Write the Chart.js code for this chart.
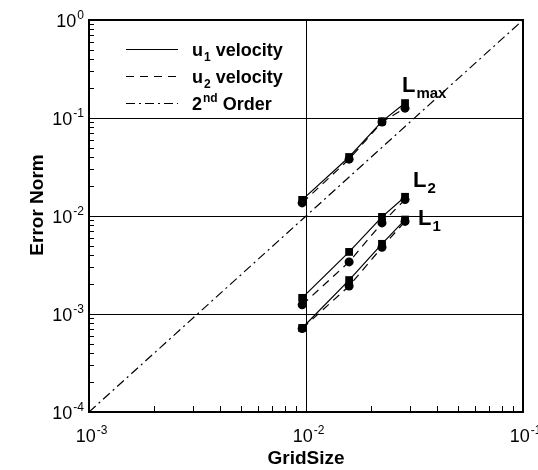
<!DOCTYPE html>
<html>
<head>
<meta charset="utf-8">
<script src="https://cdn.jsdelivr.net/npm/chart.js@4"></script>
<style>
  body { margin: 0; background: #fff; }
  #wrap { width: 538px; height: 470px; }
</style>
</head>
<body>
<div id="wrap"><canvas id="chart" width="538" height="470"></canvas></div>
<script>
// grid sizes (x) and error norms (y)
const gridSize = [0.0096, 0.0158, 0.0224, 0.0286];

const lmaxU1 = [0.0146, 0.0400, 0.0925, 0.142];
const lmaxU2 = [0.0136, 0.0380, 0.0910, 0.126];
const l2U1 = [0.00146, 0.0043, 0.0098, 0.0157];
const l2U2 = [0.00124, 0.0034, 0.0085, 0.0147];
const l1U1 = [0.00072, 0.00222, 0.0052, 0.0092];
const l1U2 = [0.00071, 0.00193, 0.0048, 0.0088];

// reference 2nd order slope
const orderX = [0.001, 0.1];
const orderY = [0.0001, 1];

const xTicks = [0.001, 0.01, 0.1];
const yTicks = [0.0001, 0.001, 0.01, 0.1, 1];

const FONT = "'Liberation Sans', Arial, sans-serif";

const pts = (xs, ys) => xs.map((x, i) => ({ x: x, y: ys[i] }));

function series(ys, dashed, style) {
  return {
    data: pts(gridSize, ys),
    showLine: true,
    borderColor: "#000",
    backgroundColor: "#000",
    borderWidth: 1.2,
    borderDash: dashed ? [8, 6] : [],
    pointStyle: style,
    pointRadius: style === "rect" ? 5.5 : 4.5,
    pointBorderWidth: 0
  };
}

// text with super/subscript part
function drawScript(ctx, x, y, base, extra, size, bold, sup, align) {
  const w = bold ? "bold " : "";
  ctx.font = w + size + "px " + FONT;
  const bw = ctx.measureText(base).width;
  const small = Math.round(size * 0.68);
  ctx.font = w + small + "px " + FONT;
  const ew = ctx.measureText(extra).width;
  let left = x;
  if (align === "right") left = x - bw - ew;
  if (align === "center") left = x - (bw + ew) / 2;
  ctx.textAlign = "left";
  ctx.textBaseline = "alphabetic";
  ctx.font = w + size + "px " + FONT;
  ctx.fillText(base, left, y);
  ctx.font = w + small + "px " + FONT;
  ctx.fillText(extra, left + bw + 1, sup ? y - size * 0.45 : y + size * 0.28);
}

const decor = {
  id: "decor",
  afterDraw(chart) {
    const ctx = chart.ctx;
    const a = chart.chartArea;
    const xs = chart.scales.x, ys = chart.scales.y;
    ctx.save();
    ctx.fillStyle = "#000";
    ctx.strokeStyle = "#000";

    // minor ticks
    ctx.lineWidth = 1;
    ctx.beginPath();
    for (let d = -4; d < 0; d++) {
      for (let k = 2; k < 10; k++) {
        const py = Math.round(ys.getPixelForValue(k * Math.pow(10, d))) + 0.5;
        ctx.moveTo(a.left, py);
        ctx.lineTo(a.left + 5, py);
      }
    }
    for (let d = -3; d < -1; d++) {
      for (let k = 2; k < 10; k++) {
        const px = Math.round(xs.getPixelForValue(k * Math.pow(10, d))) + 0.5;
        ctx.moveTo(px, a.bottom);
        ctx.lineTo(px, a.bottom - 6);
      }
    }
    ctx.stroke();

    // frame
    ctx.lineWidth = 2;
    ctx.strokeRect(a.left, a.top, a.right - a.left, a.bottom - a.top);

    // tick labels
    yTicks.forEach(v => {
      const py = ys.getPixelForValue(v);
      drawScript(ctx, 83, py + 7, "10", String(Math.round(Math.log10(v))), 18, false, true, "right");
    });
    xTicks.forEach(v => {
      const px = xs.getPixelForValue(v);
      drawScript(ctx, px + 2, 442, "10", String(Math.round(Math.log10(v))), 18, false, true, "center");
    });

    // legend
    const lx0 = 126, lx1 = 178;
    const rows = [
      { dash: [], y: 49, base: "u", extra: "1", rest: " velocity", sup: false },
      { dash: [8, 6], y: 76, base: "u", extra: "2", rest: " velocity", sup: false },
      { dash: [9, 4, 2, 4], y: 103, base: "2", extra: "nd", rest: " Order", sup: true }
    ];
    rows.forEach(r => {
      ctx.lineWidth = 1.2;
      ctx.setLineDash(r.dash);
      ctx.beginPath();
      ctx.moveTo(lx0, r.y + 0.5);
      ctx.lineTo(lx1, r.y + 0.5);
      ctx.stroke();
      ctx.setLineDash([]);
      ctx.font = "bold 18px " + FONT;
      const bw = ctx.measureText(r.base).width;
      ctx.font = "bold 12px " + FONT;
      const ew = ctx.measureText(r.extra).width;
      drawScript(ctx, 192, r.y + 7, r.base, r.extra, 18, true, r.sup, "left");
      ctx.font = "bold 18px " + FONT;
      ctx.fillText(r.rest, 192 + bw + ew + 1, r.y + 7);
    });

    // curve labels
    drawScript(ctx, 402, 92, "L", "max", 22, true, false, "left");
    drawScript(ctx, 413, 187, "L", "2", 22, true, false, "left");
    drawScript(ctx, 418, 225, "L", "1", 22, true, false, "left");

    // y axis title, sitting a little above the plot centre as in the reference
    ctx.translate(38, 205);
    ctx.rotate(-Math.PI / 2);
    ctx.font = "bold 19px " + FONT;
    ctx.textAlign = "center";
    ctx.textBaseline = "middle";
    ctx.fillText("Error Norm", 0, 0);

    ctx.restore();
  }
};

new Chart(document.getElementById("chart"), {
  type: "scatter",
  data: {
    datasets: [
      series(lmaxU1, false, "rect"),
      series(lmaxU2, true, "circle"),
      series(l2U1, false, "rect"),
      series(l2U2, true, "circle"),
      series(l1U1, false, "rect"),
      series(l1U2, true, "circle"),
      {
        data: pts(orderX, orderY),
        showLine: true,
        borderColor: "#000",
        borderWidth: 1.2,
        borderDash: [9, 4, 2, 4],
        pointRadius: 0
      }
    ]
  },
  plugins: [decor],
  options: {
    responsive: false,
    animation: false,
    layout: { padding: { left: 0, top: 20, right: 15, bottom: 0 } },
    plugins: { legend: { display: false }, tooltip: { enabled: false } },
    scales: {
      x: {
        type: "logarithmic",
        min: 0.001,
        max: 0.1,
        afterBuildTicks: s => { s.ticks = xTicks.map(v => ({ value: v })); },
        afterFit: s => { s.height = 58; },
        ticks: { display: false },
        grid: { color: "#000", lineWidth: 1, drawTicks: false },
        border: { display: false },
        title: {
          display: true,
          text: "GridSize",
          color: "#000",
          font: { family: FONT, size: 19, weight: "bold" },
          padding: { top: 2, bottom: 0 }
        }
      },
      y: {
        type: "logarithmic",
        min: 0.0001,
        max: 1,
        afterBuildTicks: s => { s.ticks = yTicks.map(v => ({ value: v })); },
        afterFit: s => { s.width = 89; },
        ticks: { display: false },
        grid: { color: "#000", lineWidth: 1, drawTicks: false },
        border: { display: false }
      }
    }
  }
});
</script>
</body>
</html>
